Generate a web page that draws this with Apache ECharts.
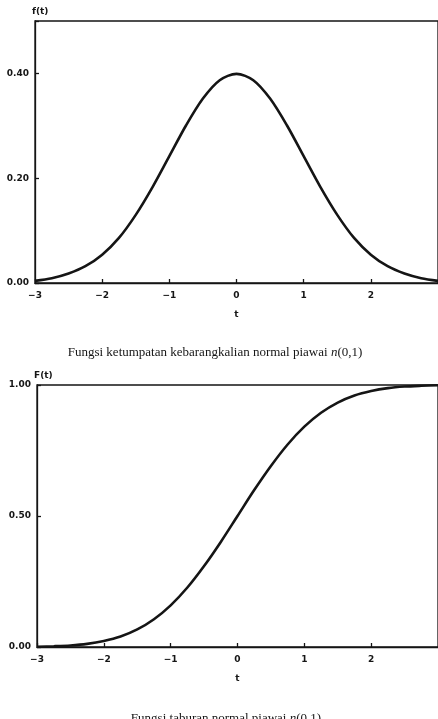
<!DOCTYPE html>
<html>
<head>
<meta charset="utf-8">
<script src="https://cdn.jsdelivr.net/npm/echarts@6/dist/echarts.min.js"></script>
<style>
  html, body { margin: 0; padding: 0; background: #fff; }
  #chart { width: 438px; height: 719px; }
</style>
</head>
<body>
<div id="chart"></div>
<script>
// nilai
const tValues = [-3, -2.75, -2.5, -2.25, -2, -1.75, -1.5, -1.25, -1, -0.75, -0.5, -0.25, 0,
  0.25, 0.5, 0.75, 1, 1.25, 1.5, 1.75, 2, 2.25, 2.5, 2.75, 3];
const pdfValues = [0.004, 0.009, 0.018, 0.032, 0.054, 0.086, 0.130, 0.183, 0.242, 0.301, 0.352, 0.387, 0.399,
  0.387, 0.352, 0.301, 0.242, 0.183, 0.130, 0.086, 0.054, 0.032, 0.018, 0.009, 0.004];
const cdfValues = [0.001, 0.003, 0.006, 0.012, 0.023, 0.040, 0.067, 0.106, 0.159, 0.227, 0.309, 0.401, 0.500,
  0.599, 0.691, 0.773, 0.841, 0.894, 0.933, 0.960, 0.977, 0.988, 0.994, 0.997, 0.999];
const xTicks = [-3, -2, -1, 0, 1, 2, 3];
const captionTop = 'Fungsi ketumpatan kebarangkalian normal piawai {i|n}(0,1)';
const captionBottom = 'Fungsi taburan normal piawai {i|n}(0,1)';

const ink = '#151515';
const tickFont = { color: ink, fontSize: 9, fontWeight: 'bold', fontFamily: 'DejaVu Sans' };
const capStyle = {
  color: ink, fontSize: 13, fontWeight: 'normal', fontFamily: 'Liberation Serif',
  rich: { i: { fontStyle: 'italic', fontSize: 13, fontFamily: 'Liberation Serif', color: ink } }
};

const chart = echarts.init(document.getElementById('chart'));

const xAxisBase = (gi) => ({
  type: 'value', gridIndex: gi, min: -3, max: 3, interval: 1,
  name: 't', nameLocation: 'middle', nameGap: 27,
  nameTextStyle: tickFont,
  axisLine: { show: true, onZero: false, lineStyle: { color: ink, width: 1.3 } },
  axisTick: { show: true, inside: true, length: 4, lineStyle: { color: ink, width: 1.3 } },
  axisLabel: { ...tickFont, margin: 8, showMaxLabel: false,
    formatter: v => xTicks.includes(v) ? (v < 0 ? '\u2212' + Math.abs(v) : String(v)) : '' },
  splitLine: { show: false }
});

const yAxisBase = (gi, max, interval, name) => ({
  type: 'value', gridIndex: gi, min: 0, max: max, interval: interval,
  name: name, nameLocation: 'end', nameGap: 5,
  nameTextStyle: { ...tickFont, align: 'left', padding: [0, 0, 0, -3] },
  axisLine: { show: true, onZero: false, lineStyle: { color: ink, width: 1.3 } },
  axisTick: { show: true, inside: true, length: 4, lineStyle: { color: ink, width: 1.3 } },
  axisLabel: { ...tickFont, margin: 6, formatter: v => (v > max - 1e-9 && max !== 1) ? '' : v.toFixed(2) },
  splitLine: { show: false }
});

const lineSeries = (gi, vals) => ({
  type: 'line', xAxisIndex: gi, yAxisIndex: gi,
  data: tValues.map((t, i) => [t, vals[i]]),
  smooth: 0.3, showSymbol: false, clip: false,
  lineStyle: { color: ink, width: 2.6 }
});

chart.setOption({
  animation: false,
  backgroundColor: '#fff',
  title: [
    { text: captionTop, left: 210, textAlign: 'center', top: 341, textStyle: capStyle },
    { text: captionBottom, left: 221, textAlign: 'center', top: 707, textStyle: capStyle }
  ],
  grid: [
    { left: 35, top: 21, width: 405, height: 262, show: true, borderColor: ink, borderWidth: 1.3 },
    { left: 37, top: 385, width: 404, height: 262, show: true, borderColor: ink, borderWidth: 1.3 }
  ],
  xAxis: [xAxisBase(0), xAxisBase(1)],
  yAxis: [yAxisBase(0, 0.5, 0.2, 'f(t)'), yAxisBase(1, 1, 0.5, 'F(t)')],
  series: [lineSeries(0, pdfValues), lineSeries(1, cdfValues)]
});
</script>
</body>
</html>
